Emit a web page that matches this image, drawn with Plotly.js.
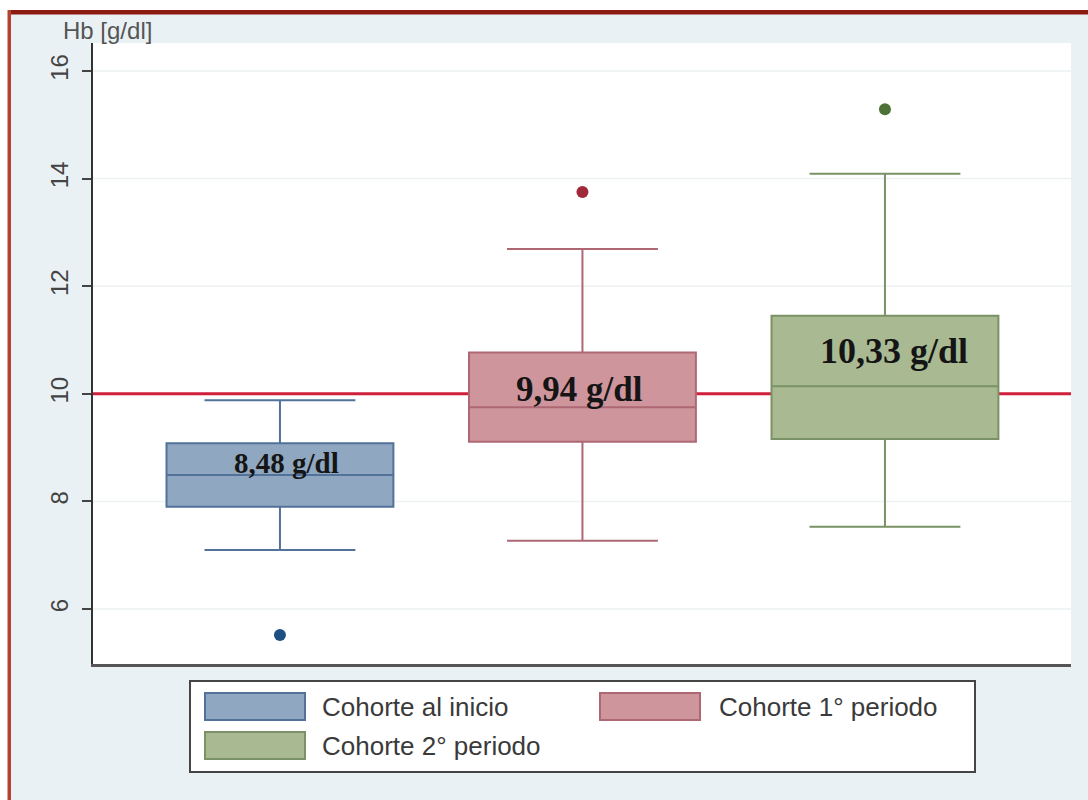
<!DOCTYPE html>
<html>
<head>
<meta charset="utf-8">
<script src="https://cdn.plot.ly/plotly-3.0.1.min.js"></script>
<style>
  html, body { margin: 0; padding: 0; background: #ffffff; }
  #chart { width: 1088px; height: 800px; }
</style>
</head>
<body>
<div id="chart"></div>
<script>
// Hemoglobin (Hb, g/dl) by cohort: box summaries, outliers and mean labels
const cohorts = ['Cohorte al inicio', 'Cohorte 1° periodo', 'Cohorte 2° periodo'];
const lowerWhisker = [7.10, 7.27, 7.53];
const q1 = [7.90, 9.11, 9.16];
const median = [8.49, 9.75, 10.14];
const q3 = [9.08, 10.77, 11.45];
const upperWhisker = [9.88, 12.69, 14.09];
const outliers = [5.52, 13.75, 15.29];
const meanValues = [8.48, 9.94, 10.33];
const referenceHb = 10;
const yTicks = [6, 8, 10, 12, 14, 16];
const yTickLabels = ['6', '8', '10', '12', '14', '16'];

// Colours per cohort
const fillColors = ['#8fa7c0', '#cf959d', '#a9ba92'];
const lineColors = ['#52729a', '#ad6874', '#7a9265'];
const dotColors = ['#1d4f82', '#9e2a3a', '#4e7235'];

// Figure geometry (pixels) and helpers converting to paper coordinates
const W = 1088, H = 800;
const M = { l: 93, r: 17, t: 43, b: 136 };
const px = x => (x - M.l) / (W - M.l - M.r);
const py = y => (H - M.b - y) / (H - M.t - M.b);
const xRange = [-0.618, 2.615];
const yRange = [4.98, 16.52];

const fmt = v => v.toFixed(2).replace('.', ',') + ' g/dl';

const traces = cohorts.map((name, i) => ({
  type: 'box',
  name: name,
  x: [i],
  q1: [q1[i]],
  median: [median[i]],
  q3: [q3[i]],
  lowerfence: [lowerWhisker[i]],
  upperfence: [upperWhisker[i]],
  width: 0.75,
  whiskerwidth: 0.665,
  fillcolor: fillColors[i],
  line: { color: lineColors[i], width: 2 },
  boxpoints: false,
  showlegend: false
}));

traces.push({
  type: 'scatter',
  mode: 'markers',
  x: cohorts.map((_, i) => i),
  y: outliers,
  marker: { color: dotColors, size: 12 },
  showlegend: false,
  hoverinfo: 'y'
});

// Mean labels drawn inside each box
const labelX = [0.02, 0.99, 2.03];
const labelY = [8.72, 10.08, 10.80];
const labelSize = [29, 35, 36];
const annotations = meanValues.map((v, i) => ({
  x: labelX[i], y: labelY[i], xref: 'x', yref: 'y',
  text: '<b>' + fmt(v) + '</b>',
  showarrow: false, xanchor: 'center', yanchor: 'middle',
  font: { family: 'Liberation Serif, Times New Roman, serif', size: labelSize[i], color: '#151515' }
}));

// Axis caption at the top-left
annotations.push({
  x: px(61), y: py(31), xref: 'paper', yref: 'paper',
  text: 'Hb [g/dl]', showarrow: false, xanchor: 'left', yanchor: 'middle',
  font: { family: 'Liberation Sans, Arial, sans-serif', size: 24, color: '#555555' }
});

const shapes = [];

// Horizontal grid at each tick, under everything else in the plot
yTicks.forEach(t => shapes.push({
  type: 'line', xref: 'paper', yref: 'y', x0: 0, x1: 1, y0: t, y1: t,
  line: { color: '#edf1f1', width: 1.5 }, layer: 'below'
}));

// Reference line at Hb = 10 g/dl, above the grid and below the boxes
shapes.push({
  type: 'line', xref: 'paper', yref: 'y', x0: 0, x1: 1, y0: referenceHb, y1: referenceHb,
  line: { color: '#cf1f3a', width: 3 }, layer: 'below'
});

// Outer frame of the figure
shapes.push({ type: 'rect', xref: 'paper', yref: 'paper', x0: px(0), x1: px(8), y0: py(0), y1: py(800), fillcolor: '#ffffff', line: { width: 0 }, layer: 'above' });
shapes.push({ type: 'rect', xref: 'paper', yref: 'paper', x0: px(0), x1: px(1088), y0: py(0), y1: py(10), fillcolor: '#ffffff', line: { width: 0 }, layer: 'above' });
shapes.push({ type: 'rect', xref: 'paper', yref: 'paper', x0: px(8), x1: px(1088), y0: py(10), y1: py(14.5), fillcolor: '#8c1b12', line: { width: 0 }, layer: 'above' });
shapes.push({ type: 'rect', xref: 'paper', yref: 'paper', x0: px(7.5), x1: px(11), y0: py(10), y1: py(800), fillcolor: '#b2432e', line: { width: 0 }, layer: 'above' });

// Legend frame, swatches and texts
const legendItems = [
  { sx: 205, sy: 693, tx: 320, ty: 707 },
  { sx: 600, sy: 693, tx: 717, ty: 707 },
  { sx: 205, sy: 732, tx: 320, ty: 746 }
];
shapes.push({ type: 'rect', xref: 'paper', yref: 'paper', x0: px(190), x1: px(975), y0: py(681), y1: py(772), fillcolor: '#ffffff', line: { color: '#454545', width: 2 }, layer: 'above' });
legendItems.forEach((it, i) => {
  shapes.push({
    type: 'rect', xref: 'paper', yref: 'paper',
    x0: px(it.sx), x1: px(it.sx + 100), y0: py(it.sy), y1: py(it.sy + 27),
    fillcolor: fillColors[i], line: { color: lineColors[i], width: 2 }, layer: 'above'
  });
  annotations.push({
    x: px(it.tx), y: py(it.ty), xref: 'paper', yref: 'paper',
    text: cohorts[i], showarrow: false, xanchor: 'left', yanchor: 'middle',
    font: { family: 'Liberation Sans, Arial, sans-serif', size: 26, color: '#3a3a3a' }
  });
});

const layout = {
  width: W, height: H,
  margin: M,
  paper_bgcolor: '#eaf1f4',
  plot_bgcolor: '#ffffff',
  boxmode: 'overlay',
  showlegend: false,
  xaxis: {
    range: xRange,
    showticklabels: false, ticks: '', showgrid: false, zeroline: false,
    showline: true, linecolor: '#555555', linewidth: 3
  },
  yaxis: {
    range: yRange,
    tickvals: yTicks, ticktext: yTickLabels,
    ticks: 'outside', ticklen: 9, tickwidth: 2, tickcolor: '#444444',
    tickangle: -90,
    ticklabelstandoff: 4,
    tickfont: { family: 'Liberation Sans, Arial, sans-serif', size: 24, color: '#444444' },
    showgrid: false,
    zeroline: false,
    showline: true, linecolor: '#333333', linewidth: 2
  },
  shapes: shapes,
  annotations: annotations
};

Plotly.newPlot('chart', traces, layout, { displayModeBar: false, staticPlot: true });
</script>
</body>
</html>
